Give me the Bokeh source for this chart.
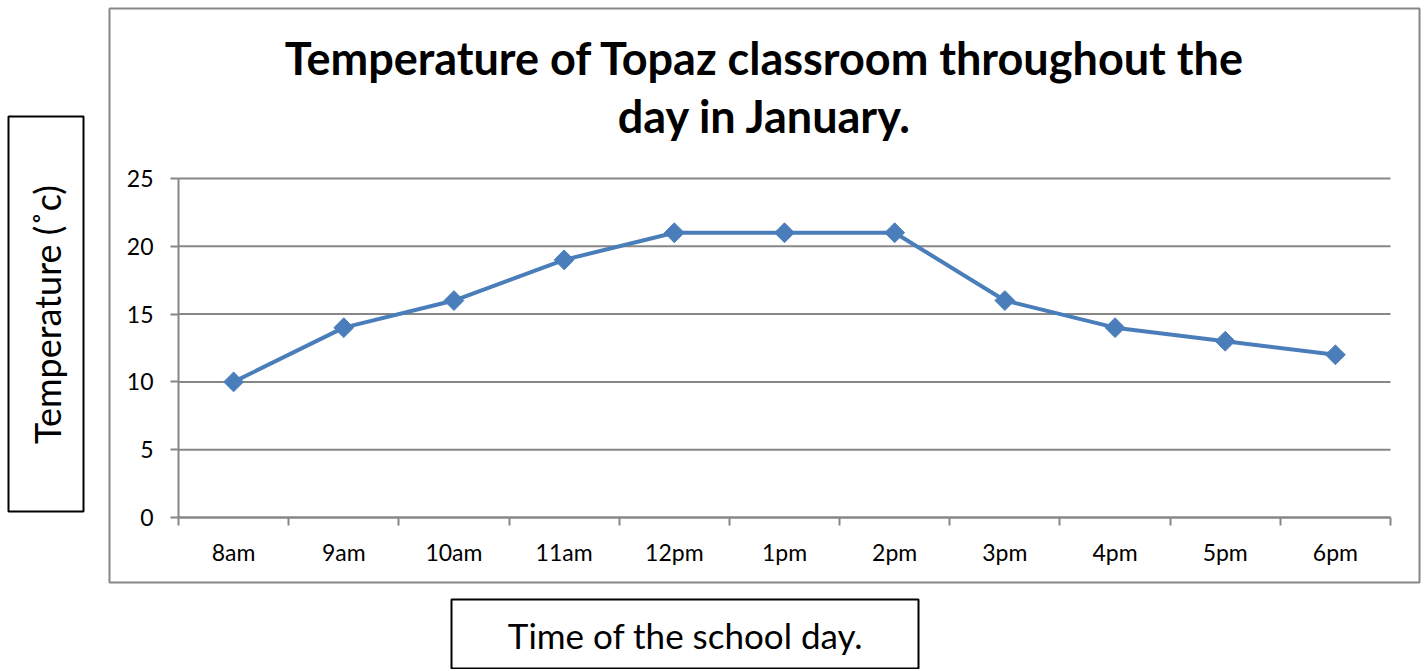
from math import pi
from bokeh.plotting import figure
from bokeh.models import Range1d, FixedTicker, BoxAnnotation, Label
from bokeh.embed import file_html
from bokeh.resources import INLINE

# ---- data ----
times = ["8am", "9am", "10am", "11am", "12pm", "1pm", "2pm", "3pm", "4pm", "5pm", "6pm"]
temps = [10, 14, 16, 19, 21, 21, 21, 16, 14, 13, 12]
y_ticks = [0, 5, 10, 15, 20, 25]
title_lines = ["Temperature of Topaz classroom throughout the", "day in January."]
x_title = "Time of the school day."
y_title = "Temperature (˚c)"

FONT = "Lato"
GRID = "#878787"
BLUE = "#4A7EBB"

# ---- layout (canvas pixels) ----
W, H = 1422, 669
PL, PR, PT, PB = 178, 1390, 178, 517          # plot area in canvas pixels
n = len(times)
ymax = y_ticks[-1]
sx = (PR - PL) / n
sy = (PB - PT) / ymax
x0 = -PL / sx
x1 = n + (W - PR) / sx
y0 = -(H - PB) / sy
y1 = ymax + PT / sy


def dx(px):
    return x0 + px / sx


def dy(py):
    return y1 - py / sy


xs = [i + 0.5 for i in range(n)]
bounds = list(range(n + 1))

p = figure(width=W, height=H, output_backend="svg", toolbar_location=None,
           x_range=Range1d(x0, x1), y_range=Range1d(y0, y1),
           min_border_left=0, min_border_right=0, min_border_top=0,
           min_border_bottom=0)
p.title.visible = False
p.outline_line_color = None
p.background_fill_color = "white"
p.border_fill_color = "white"
p.xgrid.visible = False
p.ygrid.visible = False

# horizontal gridlines across the category span
p.segment(x0=[0] * len(y_ticks), x1=[n] * len(y_ticks), y0=y_ticks, y1=y_ticks,
          line_color=GRID, line_width=2)

# y axis fixed at left edge of categories
p.yaxis.fixed_location = 0
p.yaxis.bounds = (0, ymax)
p.yaxis.ticker = FixedTicker(ticks=y_ticks)
p.yaxis.axis_line_color = GRID
p.yaxis.axis_line_width = 2
p.yaxis.major_tick_line_color = GRID
p.yaxis.major_tick_line_width = 2
p.yaxis.major_tick_out = 8
p.yaxis.major_tick_in = 0
p.yaxis.minor_tick_line_color = None
p.yaxis.major_label_text_font = FONT
p.yaxis.major_label_text_font_size = "23px"
p.yaxis.major_label_text_color = "black"
p.yaxis.major_label_standoff = 17

# x axis: labels at category centres, ticks at boundaries
p.xaxis.fixed_location = 0
p.xaxis.bounds = (0, n)
p.xaxis.ticker = FixedTicker(ticks=xs, minor_ticks=bounds)
p.xaxis.major_label_overrides = {x: t for x, t in zip(xs, times)}
p.xaxis.axis_line_color = GRID
p.xaxis.axis_line_width = 2
p.xaxis.major_tick_line_color = None
p.xaxis.major_tick_out = 0
p.xaxis.major_tick_in = 0
p.xaxis.minor_tick_line_color = GRID
p.xaxis.minor_tick_line_width = 2
p.xaxis.minor_tick_out = 8
p.xaxis.minor_tick_in = 0
p.xaxis.major_label_text_font = FONT
p.xaxis.major_label_text_font_size = "23px"
p.xaxis.major_label_text_color = "black"
p.xaxis.major_label_standoff = 12

# series
p.line(xs, temps, line_color=BLUE, line_width=4)
p.scatter(xs, temps, marker="square", size=14, angle=pi / 4,
          fill_color=BLUE, line_color=BLUE)

# chart border
p.add_layout(BoxAnnotation(left=dx(109), right=dx(1419), top=dy(8), bottom=dy(582),
                           fill_alpha=0, line_color=GRID, line_alpha=1, line_width=2))
# y title box
p.add_layout(BoxAnnotation(left=dx(8), right=dx(83), top=dy(116), bottom=dy(511),
                           fill_alpha=0, line_color="black", line_alpha=1, line_width=2))
# x title box
p.add_layout(BoxAnnotation(left=dx(451), right=dx(918), top=dy(599), bottom=dy(668),
                           fill_alpha=0, line_color="black", line_alpha=1, line_width=2))

for text, py in zip(title_lines, [57, 115]):
    p.add_layout(Label(x=dx(764.5), y=dy(py), text=text,
                       text_align="center", text_baseline="middle",
                       text_font=FONT, text_font_style="bold",
                       text_font_size="45px", text_color="black"))

p.add_layout(Label(x=dx(46), y=dy(314), text=y_title,
                   angle=pi / 2, text_align="center", text_baseline="middle",
                   text_font=FONT, text_font_size="36px", text_color="black"))
p.add_layout(Label(x=dx(685), y=dy(634), text=x_title,
                   text_align="center", text_baseline="middle",
                   text_font=FONT, text_font_size="35px", text_color="black"))

open("out.html", "w").write(file_html(p, INLINE))
